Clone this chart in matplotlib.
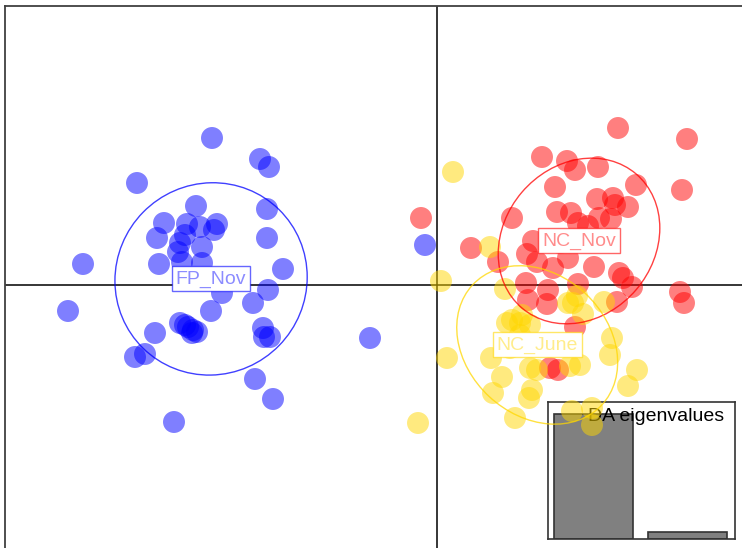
import numpy as np
import matplotlib
matplotlib.use("Agg")
import matplotlib.pyplot as plt
from matplotlib.patches import Ellipse
from matplotlib.colors import to_rgba

plt.rcParams['font.family'] = ['Liberation Sans', 'DejaVu Sans']

# Discriminant function scores (LD1, LD2) per population
fp_nov_ld1 = [-4.50, -3.54, -3.36, -6.00, -4.82, -3.40, -5.46, -5.00, -4.74, -4.40,
              -4.46, -5.60, -3.40, -5.14, -5.04, -4.70, -5.18, -5.56, -4.70, -7.08,
              -3.08, -3.38, -4.30, -3.68, -4.52, -7.38, -5.14, -4.98, -4.88, -4.80,
              -5.64, -3.48, -3.46, -3.34, -5.84, -6.04, -1.34, -3.64, -3.28, -5.26,
              -0.24, -5.10, -5.04, -4.90]
fp_nov_ld2 = [2.94, 2.52, 2.36, 2.04, 1.58, 1.52, 1.24, 1.22, 1.16, 1.22,
              1.10, 0.94, 0.94, 0.84, 1.00, 0.76, 0.66, 0.42, 0.44, 0.42,
              0.32, -0.10, -0.16, -0.36, -0.52, -0.52, -0.76, -0.84, -0.90, -0.94,
              -0.96, -0.86, -1.04, -1.04, -1.38, -1.44, -1.06, -1.88, -2.28, -2.74,
              0.80, 0.46, -0.80, -0.96]

nc_nov_ld1 = [3.62, 5.00, 2.10, 2.60, 2.76, 3.22, 3.98, 4.90, 2.36, 3.20,
              3.52, 3.56, 3.82, 2.40, 2.68, 3.24, 3.48, 1.50, -0.32, 2.82,
              3.02, 0.68, 1.92, 1.80, 1.22, 2.00, 2.32, 2.62, 3.14, 3.64,
              3.72, 3.90, 4.86, 4.94, 1.78, 2.22, 2.82, 1.82, 2.20, 3.60,
              2.76, 2.26, 2.42, 2.46, 3.26]
nc_nov_ld2 = [3.14, 2.92, 2.56, 2.48, 2.30, 2.36, 2.00, 1.90, 1.96, 1.72,
              1.74, 1.60, 1.56, 1.46, 1.44, 1.34, 1.32, 1.34, 1.34, 1.24,
              1.18, 0.74, 0.88, 0.62, 0.46, 0.46, 0.34, 0.54, 0.36, 0.24,
              0.14, -0.04, -0.14, -0.36, 0.04, -0.10, 0.02, -0.30, -0.38, -0.34,
              -0.84, -1.66, -1.70, 0.84, 0.90]

nc_june_ld1 = [0.32, 1.06, 0.08, -0.38, 1.36, 1.50, 1.70, 1.66, 1.86, 1.40,
               2.62, 2.80, 2.92, 3.34, 3.50, 3.46, 4.00, 3.82, 0.20, 1.08,
               1.30, 1.12, 1.90, 1.84, 1.56, 2.70, 3.10, 3.10, 1.86, 2.00,
               2.66, 2.86, 2.72, 1.46, 1.66]
nc_june_ld2 = [2.26, 0.76, 0.08, -2.76, -0.08, -0.70, -0.60, -0.76, -0.80, -0.76,
               -0.36, -0.22, -0.58, -0.34, -1.06, -1.40, -1.70, -2.02, -1.46, -1.46,
               -1.84, -2.16, -2.10, -2.26, -2.66, -2.52, -2.46, -2.80, -1.66, -1.70,
               -1.62, -1.60, -0.36, -1.26, -1.00]

group_names = ["FP_Nov", "NC_Nov", "NC_June"]
group_colors = ["#0000FF", "#FF0000", "#FFD700"]
groups_ld1 = [fp_nov_ld1, nc_nov_ld1, nc_june_ld1]
groups_ld2 = [fp_nov_ld2, nc_nov_ld2, nc_june_ld2]

# Eigenvalues of the discriminant analysis
da_eigenvalues = [158.2, 8.9]

W, H, DPI = 742, 548, 100
fig = plt.figure(figsize=(W / DPI, H / DPI), dpi=DPI, facecolor="white")

# main scatter axes: the frame runs past the right and bottom edges
ax = fig.add_axes([5 / W, -20 / H, 757 / W, 562 / H])
ax.set_xlim(-8.64, 6.50)
ax.set_ylim(-5.66, 5.58)
ax.set_zorder(2)
ax.patch.set_visible(False)
for side in ("right", "bottom"):
    ax.spines[side].set_visible(False)
for side in ("top", "left"):
    ax.spines[side].set_linewidth(1.3)
    ax.spines[side].set_color("#404040")
ax.set_xticks([])
ax.set_yticks([])

ax.axhline(0, color="black", lw=1.1, zorder=1)
ax.axvline(0, color="black", lw=1.1, zorder=1)

cellipse = 1.5
for name, col, x, y in zip(group_names, group_colors, groups_ld1, groups_ld2):
    x = np.asarray(x)
    y = np.asarray(y)
    ax.scatter(x, y, s=250, color=to_rgba(col, 0.5), edgecolors="none", zorder=3)

    # inertia ellipse (1.5 standard deviations) centred on the group mean
    cx, cy = x.mean(), y.mean()
    cov = np.cov(np.vstack([x, y]), bias=True)
    vals, vecs = np.linalg.eigh(cov)
    order = vals.argsort()[::-1]
    vals, vecs = vals[order], vecs[:, order]
    angle = np.degrees(np.arctan2(vecs[1, 0], vecs[0, 0]))
    ell = Ellipse((cx, cy), 2 * cellipse * np.sqrt(vals[0]), 2 * cellipse * np.sqrt(vals[1]),
                  angle=angle, fill=False, ec=to_rgba(col, 0.75), lw=1.0, zorder=4)
    ax.add_patch(ell)

    ax.text(cx, cy, name, ha="center", va="center", fontsize=14,
            color=to_rgba(col, 0.45), zorder=5,
            bbox=dict(boxstyle="square,pad=0.2", fc="white", ec=to_rgba(col, 0.6), lw=1.0))

# eigenvalue inset
iax = fig.add_axes([548 / W, 1 - 539 / H, 187 / W, 137 / H])
iax.set_zorder(1)
iax.set_facecolor("white")
iax.bar([0, 1.2], da_eigenvalues, width=1.0, color="#808080", edgecolor="#333333", lw=1.2)
iax.set_xlim(-0.576, 1.80)
iax.set_ylim(0, da_eigenvalues[0] * 137 / 125)
iax.set_xticks([])
iax.set_yticks([])
for sp in iax.spines.values():
    sp.set_color("#333333")
    sp.set_linewidth(1.2)
iax.text(0.94, 0.955, "DA eigenvalues", transform=iax.transAxes, ha="right", va="top",
         fontsize=14, color="black")

fig.savefig("out.png", dpi=DPI, facecolor="white")
